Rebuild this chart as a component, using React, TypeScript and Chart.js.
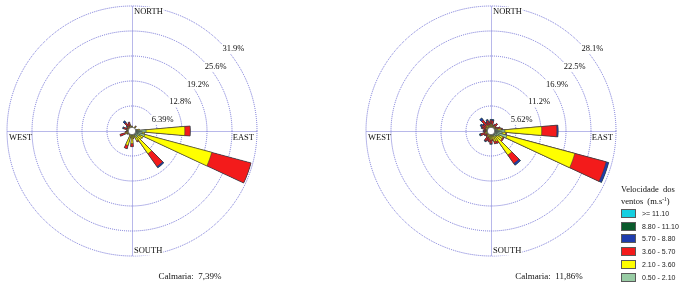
import React, { useEffect, useRef } from 'react';
import { Chart, registerables } from 'chart.js';

Chart.register(...registerables);

// ---- categories ----
const DIRECTIONS = ['0°', '10°', '20°', '30°', '40°', '50°', '60°', '70°', '80°', '90°', '100°', '110°',
  '120°', '130°', '140°', '150°', '160°', '170°', '180°', '190°', '200°', '210°', '220°', '230°',
  '240°', '250°', '260°', '270°', '280°', '290°', '300°', '310°', '320°', '330°', '340°', '350°'];

const SPEED_CLASSES = ['0.50 - 2.10', '2.10 - 3.60', '3.60 - 5.70', '5.70 - 8.80', '8.80 - 11.10', '>= 11.10'];
const CLASS_COLORS = ['#98cca4', '#ffff00', '#f31b1b', '#1f3dad', '#0a5a2c', '#16cfe0'];

// ---- left rose: frequency (%) per direction for each speed class ----
const L_050_210 = [0.7, 0.6, 0.5, 0.5, 0.8, 0.6, 0.6, 0.8, 1.4, 3.6, 2.6, 3.4, 2.2, 1.6, 2.0, 1.2, 0.9, 0.8, 1.0, 0.8, 1.0, 0.7, 0.6, 0.6, 0.6, 0.8, 0.6, 0.6, 0.5, 0.6, 0.5, 0.5, 0.6, 0.5, 0.6, 0.5];
const L_210_360 = [0.6, 0.3, 0.2, 0.3, 0.6, 0.3, 0.2, 0.3, 0.5, 9.9, 0.6, 17.7, 1.0, 1.4, 5.1, 1.6, 0.8, 1.0, 2.2, 0.8, 2.8, 0.6, 0.4, 0.4, 0.5, 1.0, 0.6, 0.5, 0.5, 0.8, 0.6, 0.6, 0.8, 0.7, 0.8, 0.5];
const L_360_570 = [0, 0, 0, 0, 0.2, 0, 0, 0, 0, 1.4, 0, 10.4, 0, 0, 4.0, 0.3, 0, 0.2, 0.8, 0.2, 0.9, 0, 0, 0.2, 0.4, 1.4, 0.6, 0.3, 0.3, 0.8, 0.4, 0.5, 1.2, 0.9, 1.0, 0.3];
const L_570_880 = [0, 0, 0, 0, 0, 0, 0, 0, 0, 0, 0, 0, 0, 0, 0.4, 0, 0, 0, 0, 0, 0, 0, 0, 0, 0, 0, 0, 0, 0, 0.3, 0, 0.2, 0.6, 0, 0, 0];
const L_880_1110 = [0, 0, 0, 0, 0, 0, 0, 0, 0, 0, 0, 0, 0, 0, 0, 0, 0, 0, 0, 0, 0, 0, 0, 0, 0, 0, 0, 0, 0, 0, 0, 0, 0, 0, 0, 0];
const L_1110_UP = [0, 0, 0, 0, 0, 0, 0, 0, 0, 0, 0, 0, 0, 0, 0, 0, 0, 0, 0, 0, 0, 0, 0, 0, 0, 0, 0, 0, 0, 0, 0, 0, 0, 0, 0, 0];
const L_RINGS = [6.39, 12.78, 19.17, 25.56, 31.95];
const L_RING_LABELS = ['6.39%', '12.8%', '19.2%', '25.6%', '31.9%'];
const L_CALM = 'Calmaria:  7,39%';

// ---- right rose ----
const R_050_210 = [0.6, 0.6, 0.5, 0.5, 0.6, 0.5, 0.6, 0.8, 1.5, 3.1, 2.5, 3.7, 2.0, 1.6, 1.5, 1.1, 1.0, 0.8, 0.8, 0.7, 0.6, 0.6, 0.5, 0.5, 0.5, 0.6, 0.5, 0.5, 0.5, 0.5, 0.6, 0.5, 0.6, 0.5, 0.6, 0.5];
const R_210_360 = [0.9, 0.8, 0.5, 0.6, 0.7, 0.5, 0.5, 0.7, 0.8, 8.3, 0.8, 15.8, 1.0, 1.4, 5.1, 1.5, 1.4, 1.0, 1.2, 1.0, 0.8, 0.9, 0.6, 0.5, 0.6, 0.8, 0.5, 0.6, 0.5, 0.7, 0.8, 0.7, 1.0, 0.7, 0.8, 0.7];
const R_360_570 = [0.9, 0.9, 0.4, 0.6, 0.8, 0.4, 0.5, 0.7, 0.3, 3.4, 0.2, 7.3, 0.3, 0.3, 2.3, 0.5, 0.6, 0.4, 0.8, 0.8, 0.9, 1.0, 0.5, 0.6, 0.7, 1.0, 0.6, 0.5, 0.6, 0.8, 0.9, 0.8, 1.4, 0.8, 1.0, 0.7];
const R_570_880 = [0.2, 0.3, 0, 0, 0, 0, 0, 0, 0, 0.3, 0, 0.6, 0, 0, 0.5, 0, 0, 0, 0.2, 0, 0, 0.2, 0, 0, 0, 0.3, 0, 0.2, 0, 0.3, 0.4, 0.3, 0.6, 0.3, 0.3, 0.2];
const R_880_1110 = [0, 0, 0, 0, 0, 0, 0, 0, 0, 0, 0, 0, 0, 0, 0, 0, 0, 0, 0, 0, 0, 0, 0, 0, 0, 0, 0, 0, 0, 0, 0, 0, 0, 0, 0, 0];
const R_1110_UP = [0, 0, 0, 0, 0, 0, 0, 0, 0, 0, 0, 0, 0, 0, 0, 0, 0, 0, 0, 0, 0, 0, 0, 0, 0, 0, 0, 0, 0, 0, 0, 0, 0, 0, 0, 0];
const R_RINGS = [5.62, 11.24, 16.86, 22.48, 28.1];
const R_RING_LABELS = ['5.62%', '11.2%', '16.9%', '22.5%', '28.1%'];
const R_CALM = 'Calmaria:  11,86%';

const GRID_COLOR = 'rgb(112,112,212)';
const GRID_DASH = [1, 1];
const TEXT_COLOR = '#101010';
const SERIF = '"Liberation Serif", "DejaVu Serif", serif';

function makeDecor(rings: number[], ringLabels: string[], calm: string) {
  return {
    id: 'roseDecor',
    beforeDatasetsDraw(chart: any) {
      const s = chart.scales.r;
      const ctx = chart.ctx;
      const cx = s.xCenter + 0.5;
      const cy = s.yCenter + 0.5;
      const R = s.drawingArea;
      ctx.save();
      ctx.strokeStyle = GRID_COLOR;
      ctx.lineWidth = 1;
      ctx.setLineDash(GRID_DASH);
      ctx.beginPath();
      ctx.moveTo(cx, cy - R);
      ctx.lineTo(cx, cy + R);
      ctx.moveTo(cx - R, cy);
      ctx.lineTo(cx + R, cy);
      ctx.stroke();
      ctx.restore();
    },
    afterDatasetsDraw(chart: any) {
      const s = chart.scales.r;
      const ctx = chart.ctx;
      const cx = s.xCenter;
      const cy = s.yCenter;
      const R = s.drawingArea;
      ctx.save();
      // calm circle
      ctx.beginPath();
      ctx.arc(cx, cy, 3.8, 0, Math.PI * 2);
      ctx.fillStyle = '#ffffff';
      ctx.fill();
      ctx.lineWidth = 0.8;
      ctx.strokeStyle = '#505050';
      ctx.stroke();

      ctx.font = '8.5px ' + SERIF;
      ctx.textBaseline = 'middle';
      const label = (text: string, x: number, y: number, align: 'left' | 'right' | 'center', bg: boolean) => {
        ctx.textAlign = align;
        const w = ctx.measureText(text).width;
        const x0 = align === 'left' ? x : align === 'right' ? x - w : x - w / 2;
        if (bg) {
          ctx.fillStyle = '#ffffff';
          ctx.fillRect(x0 - 1, y - 5, w + 2, 10);
        }
        ctx.fillStyle = TEXT_COLOR;
        ctx.fillText(text, x, y);
      };
      rings.forEach((v, i) => {
        const r = s.getDistanceFromCenterForValue(v);
        label(ringLabels[i], cx + r * Math.SQRT1_2 + 2, cy - r * Math.SQRT1_2 + 6.5, 'left', true);
      });
      label('NORTH', cx + 2, cy - R + 6, 'left', true);
      label('SOUTH', cx + 2, cy + R - 5.5, 'left', true);
      label('EAST', cx + R - 3, cy + 6.5, 'right', false);
      label('WEST', cx - R + 2, cy + 6.5, 'left', false);
      ctx.font = '9px ' + SERIF;
      label(calm, cx + 58, cy + 146, 'center', false);
      ctx.restore();
    },
  };
}

function cumulate(classes: number[][]): number[][] {
  const out: number[][] = [];
  let run = classes[0].map(() => 0);
  classes.forEach((c) => {
    run = run.map((v, i) => Math.round((v + c[i]) * 1000) / 1000);
    out.push(run);
  });
  return out;
}

type RoseProps = {
  classes: number[][];
  rings: number[];
  ringLabels: string[];
  calm: string;
  left: number;
  width: number;
  padLeft: number;
};

function Rose({ classes, rings, ringLabels, calm, left, width, padLeft }: RoseProps) {
  const ref = useRef<HTMLCanvasElement>(null);
  useEffect(() => {
    const cum = cumulate(classes);
    const datasets = cum.map((data, k) => ({
      label: SPEED_CLASSES[k],
      data,
      backgroundColor: CLASS_COLORS[k],
      borderColor: '#3c3c3c',
      borderWidth: (ctx: any) => (classes[k][ctx.dataIndex] > 0 ? 0.6 : 0),
    }));
    const top = 6;
    const size = 251;
    const chart = new Chart(ref.current as HTMLCanvasElement, {
      type: 'polarArea',
      data: { labels: DIRECTIONS, datasets },
      options: {
        responsive: false,
        animation: false,
        events: [],
        layout: { padding: { left: padLeft, top, right: width - padLeft - size, bottom: 285 - top - size } },
        plugins: { legend: { display: false }, tooltip: { enabled: false } },
        scales: {
          r: {
            min: 0,
            max: rings[rings.length - 1],
            startAngle: -5,
            ticks: { display: false },
            afterBuildTicks: (scale: any) => {
              scale.ticks = [0, ...rings].map((v) => ({ value: v }));
            },
            grid: { circular: true, color: GRID_COLOR, lineWidth: 1, borderDash: GRID_DASH },
            border: { dash: GRID_DASH },
            angleLines: { display: false },
            pointLabels: { display: false },
          },
        },
      } as any,
      plugins: [makeDecor(rings, ringLabels, calm)],
    });
    return () => chart.destroy();
  }, []);
  return (
    <canvas
      ref={ref}
      width={width}
      height={285}
      style={{ position: 'absolute', left, top: 0, width, height: 285 }}
    />
  );
}

const LEGEND_ROWS = [5, 4, 3, 2, 1, 0];

export default function App() {
  return (
    <div style={{ position: 'fixed', left: 0, top: 0, width: 688, height: 285, background: '#fff', overflow: 'hidden' }}>
      <Rose
        classes={[L_050_210, L_210_360, L_360_570, L_570_880, L_880_1110, L_1110_UP]}
        rings={L_RINGS}
        ringLabels={L_RING_LABELS}
        calm={L_CALM}
        left={0}
        width={345}
        padLeft={7}
      />
      <Rose
        classes={[R_050_210, R_210_360, R_360_570, R_570_880, R_880_1110, R_1110_UP]}
        rings={R_RINGS}
        ringLabels={R_RING_LABELS}
        calm={R_CALM}
        left={345}
        width={343}
        padLeft={21}
      />
      <div style={{ position: 'absolute', left: 621, top: 183, font: '8.5px ' + SERIF, color: TEXT_COLOR, lineHeight: '12px', whiteSpace: 'nowrap', wordSpacing: '2px' }}>
        <div>Velocidade dos</div>
        <div>
          ventos (m.s<span style={{ fontSize: '5.5px', position: 'relative', top: '-3px' }}>-1</span>)
        </div>
      </div>
      {LEGEND_ROWS.map((k, i) => (
        <div key={k}>
          <div
            style={{
              position: 'absolute',
              left: 621,
              top: 209 + i * 12.7,
              width: 15,
              height: 9,
              boxSizing: 'border-box',
              border: '1px solid #5a5a5a',
              background: CLASS_COLORS[k],
            }}
          />
          <div
            style={{
              position: 'absolute',
              left: 642,
              top: 208 + i * 12.7,
              font: '7px "Liberation Sans", Arial, sans-serif',
              lineHeight: '11px',
              color: '#222',
              whiteSpace: 'nowrap',
            }}
          >
            {SPEED_CLASSES[k]}
          </div>
        </div>
      ))}
    </div>
  );
}
